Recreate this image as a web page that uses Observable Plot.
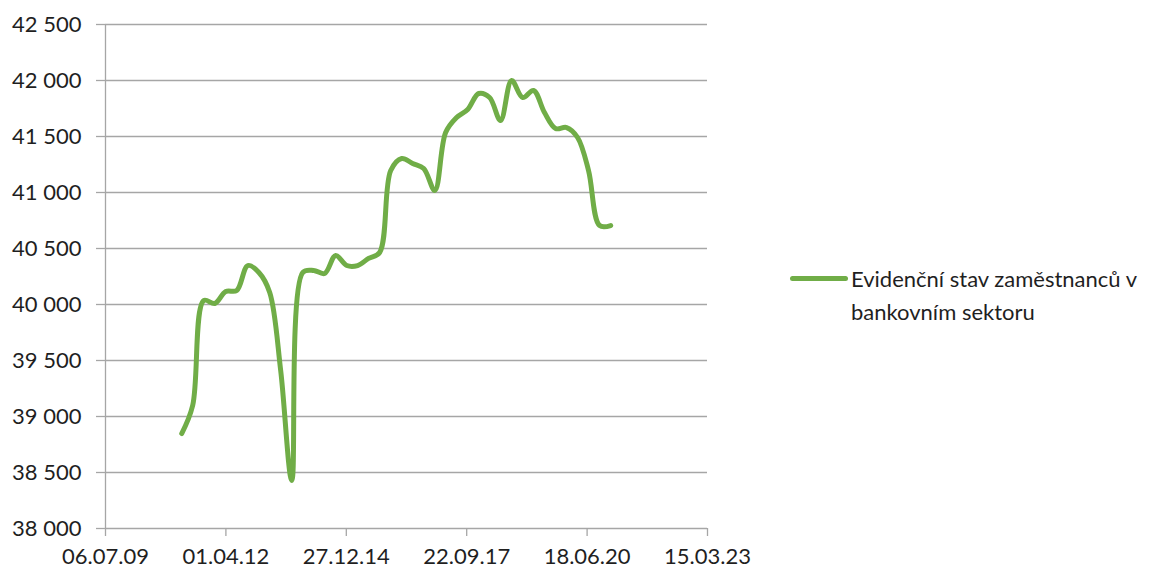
<!DOCTYPE html>
<html>
<head>
<meta charset="utf-8">
<script src="https://cdn.jsdelivr.net/npm/d3@7"></script>
<script src="https://cdn.jsdelivr.net/npm/@observablehq/plot@0.6"></script>
<style>
  body { margin: 0; background: #fff; font-family: Lato, "Open Sans", sans-serif; }
  #wrap { position: relative; width: 1167px; height: 572px; }
  #chart { position: absolute; left: 0; top: 0; }
  #swatch { position: absolute; left: 790px; top: 276px; width: 58px; height: 5px; border-radius: 3px; background: #70AD47; }
  #legtext { position: absolute; left: 851px; top: 262px; font-size: 22px; line-height: 33px; color: #1f1f1f; white-space: nowrap; }
</style>
</head>
<body>
<div id="wrap">
  <div id="chart"></div>
  <div id="swatch"></div>
  <div id="legtext">Evidenční stav zaměstnanců v<br>bankovním sektoru</div>
</div>
<script>
// Quarter-end dates (Q1 2011 – Q4 2020)
const dates = [
  "2011-03-31","2011-06-30","2011-09-30","2011-12-31",
  "2012-03-31","2012-06-30","2012-09-30","2012-12-31",
  "2013-03-31","2013-06-30","2013-09-30","2013-12-31",
  "2014-03-31","2014-06-30","2014-09-30","2014-12-31",
  "2015-03-31","2015-06-30","2015-09-30","2015-12-31",
  "2016-03-31","2016-06-30","2016-09-30","2016-12-31",
  "2017-03-31","2017-06-30","2017-09-30","2017-12-31",
  "2018-03-31","2018-06-30","2018-09-30","2018-12-31",
  "2019-03-31","2019-06-30","2019-09-30","2019-12-31",
  "2020-03-31","2020-06-30","2020-09-30","2020-12-31"
];
// Number of employees in the banking sector
const employees = [
  38848, 39098, 40036, 40009,
  40116, 40125, 40348, 40286,
  40107, 39411, 38429, 40286,
  40304, 40277, 40438, 40348,
  40348, 40411, 40464, 41196,
  41304, 41259, 41214, 41018,
  41536, 41670, 41741, 41884,
  41848, 41643, 42000, 41848,
  41911, 41714, 41571, 41580,
  41491, 41196, 40705, 40705
];
const seriesName = "Evidenční stav zaměstnanců v bankovním sektoru";
const xTicks = ["2009-07-06","2012-04-01","2014-12-27","2017-09-22","2020-06-18","2023-03-15"];
const yTicks = [38000, 38500, 39000, 39500, 40000, 40500, 41000, 41500, 42000, 42500];

const data = dates.map((d, i) => ({date: new Date(d + "T00:00:00Z"), value: employees[i], series: seriesName}));
const xTickDates = xTicks.map(d => new Date(d + "T00:00:00Z"));
const fmtY = d => d3.format(",")(d).replace(/,/g, "\u00a0");
const fmtX = d3.utcFormat("%d.%m.%y");
const grey = "#a6a6a6";

const chart = Plot.plot({
  width: 760,
  height: 572,
  marginLeft: 105,
  marginRight: 53,
  marginTop: 24,
  marginBottom: 44,
  style: {fontFamily: "Lato, 'Open Sans', sans-serif", fontSize: "22px", color: "#1f1f1f", background: "#fff"},
  x: {type: "utc", domain: [xTickDates[0], xTickDates[xTickDates.length - 1]]},
  y: {domain: [38000, 42500]},
  marks: [
    Plot.gridY(yTicks.slice(1), {stroke: grey, strokeOpacity: 1, strokeWidth: 1.3}),
    Plot.ruleY([yTicks[0]], {stroke: grey, strokeWidth: 1.3}),
    Plot.ruleX([xTickDates[0]], {stroke: grey, strokeWidth: 1.3}),
    Plot.axisY(yTicks, {tickFormat: fmtY, tickSize: 9, tickPadding: 15, stroke: grey, strokeWidth: 1.3, fill: "#1f1f1f", label: null}),
    Plot.axisX(xTickDates, {tickFormat: fmtX, tickSize: 8, tickPadding: 12, stroke: grey, strokeWidth: 1.3, fill: "#1f1f1f", label: null}),
    Plot.line(data, {x: "date", y: "value", stroke: "#70AD47", strokeWidth: 5, curve: "catmull-rom", strokeLinecap: "round", strokeLinejoin: "round"})
  ]
});
document.getElementById("chart").appendChild(chart);
</script>
</body>
</html>
